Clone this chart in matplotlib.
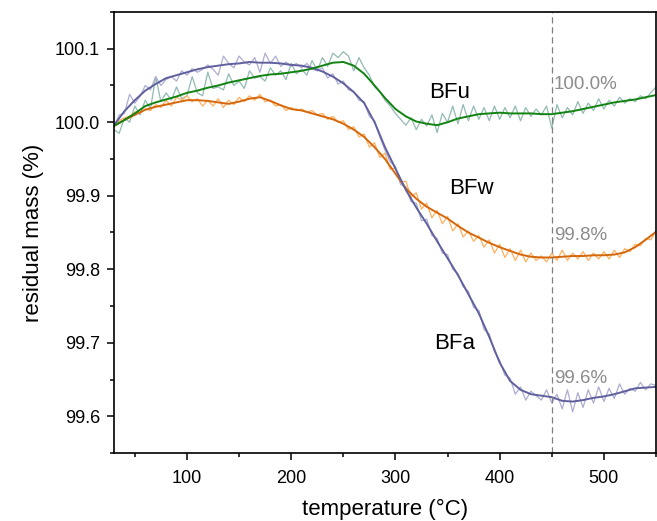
import numpy as np
import matplotlib
matplotlib.use("Agg")
import matplotlib.pyplot as plt
from matplotlib.ticker import MultipleLocator, FormatStrFormatter

plt.rcParams['font.family'] = ['Liberation Sans', 'DejaVu Sans']

# smoothed curves (10 °C nodes)
T_smooth = list(range(30, 551, 10))
bfa_smooth = [99.996, 100.015, 100.030, 100.043, 100.052, 100.060, 100.064, 100.068, 100.072, 100.075,
              100.077, 100.079, 100.080, 100.082, 100.081, 100.081, 100.080, 100.078, 100.077, 100.074,
              100.069, 100.062, 100.053, 100.041, 100.026, 100.000, 99.966, 99.937, 99.908, 99.884,
              99.862, 99.838, 99.815, 99.792, 99.766, 99.740, 99.708, 99.673, 99.648, 99.636,
              99.630, 99.628, 99.626, 99.621, 99.620, 99.622, 99.625, 99.627, 99.630, 99.634,
              99.638, 99.639, 99.640]
bfw_smooth = [99.995, 100.003, 100.010, 100.017, 100.021, 100.024, 100.027, 100.030, 100.030, 100.029,
              100.027, 100.025, 100.028, 100.032, 100.034, 100.029, 100.023, 100.018, 100.016, 100.012,
              100.008, 100.004, 99.998, 99.990, 99.980, 99.966, 99.950, 99.930, 99.910, 99.896,
              99.885, 99.877, 99.869, 99.859, 99.850, 99.843, 99.836, 99.830, 99.825, 99.820,
              99.817, 99.816, 99.816, 99.817, 99.818, 99.818, 99.819, 99.819, 99.820, 99.823,
              99.830, 99.840, 99.851]
bfu_smooth = [99.995, 100.003, 100.012, 100.022, 100.027, 100.031, 100.035, 100.040, 100.043, 100.047,
              100.050, 100.054, 100.057, 100.060, 100.063, 100.065, 100.066, 100.068, 100.070, 100.073,
              100.077, 100.081, 100.082, 100.077, 100.066, 100.050, 100.033, 100.018, 100.008, 100.001,
              99.998, 99.996, 100.000, 100.005, 100.008, 100.011, 100.012, 100.013, 100.012, 100.012,
              100.012, 100.011, 100.011, 100.013, 100.015, 100.018, 100.021, 100.024, 100.027, 100.029,
              100.031, 100.034, 100.037]

# raw curves (5 °C steps)
T_raw = list(range(30, 551, 5))
bfa_raw = [99.993, 100.010, 100.012, 100.038, 100.026, 100.035, 100.050, 100.044, 100.062, 100.050,
           100.058, 100.062, 100.056, 100.070, 100.064, 100.073, 100.068, 100.072, 100.078, 100.072,
           100.064, 100.090, 100.080, 100.074, 100.090, 100.082, 100.078, 100.088, 100.068, 100.094,
           100.080, 100.090, 100.076, 100.082, 100.076, 100.080, 100.074, 100.080, 100.072, 100.070,
           100.074, 100.060, 100.066, 100.052, 100.056, 100.044, 100.042, 100.030, 100.028, 100.008,
           100.002, 99.980, 99.962, 99.946, 99.940, 99.915, 99.912, 99.892, 99.890, 99.866,
           99.868, 99.846, 99.842, 99.822, 99.820, 99.800, 99.794, 99.776, 99.770, 99.748,
           99.744, 99.718, 99.712, 99.688, 99.676, 99.656, 99.652, 99.630, 99.640, 99.622,
           99.634, 99.628, 99.622, 99.636, 99.618, 99.630, 99.610, 99.636, 99.606, 99.632,
           99.612, 99.636, 99.618, 99.640, 99.620, 99.638, 99.624, 99.644, 99.630, 99.638,
           99.634, 99.646, 99.636, 99.644, 99.642]
bfw_raw = [99.994, 100.002, 100.006, 100.008, 100.014, 100.012, 100.018, 100.016, 100.024, 100.020,
           100.030, 100.022, 100.034, 100.030, 100.036, 100.028, 100.032, 100.022, 100.030, 100.022,
           100.032, 100.020, 100.030, 100.024, 100.034, 100.028, 100.036, 100.030, 100.038, 100.028,
           100.030, 100.022, 100.024, 100.016, 100.020, 100.016, 100.018, 100.014, 100.016, 100.010,
           100.012, 100.004, 100.008, 100.000, 100.002, 99.990, 99.994, 99.980, 99.984, 99.966,
           99.972, 99.952, 99.958, 99.936, 99.938, 99.918, 99.920, 99.898, 99.904, 99.882,
           99.890, 99.870, 99.880, 99.862, 99.872, 99.852, 99.862, 99.844, 99.852, 99.838,
           99.846, 99.830, 99.840, 99.822, 99.834, 99.816, 99.828, 99.812, 99.826, 99.810,
           99.822, 99.812, 99.818, 99.810, 99.822, 99.812, 99.826, 99.812, 99.822, 99.814,
           99.824, 99.812, 99.822, 99.814, 99.824, 99.814, 99.826, 99.816, 99.828, 99.824,
           99.834, 99.832, 99.842, 99.840, 99.852]
bfu_raw = [99.990, 99.985, 100.006, 100.000, 100.022, 100.010, 100.030, 100.018, 100.062, 100.028,
           100.040, 100.030, 100.048, 100.032, 100.036, 100.062, 100.040, 100.036, 100.068, 100.046,
           100.048, 100.044, 100.066, 100.050, 100.056, 100.046, 100.070, 100.060, 100.062, 100.056,
           100.074, 100.064, 100.070, 100.058, 100.080, 100.066, 100.072, 100.064, 100.084, 100.070,
           100.088, 100.076, 100.094, 100.088, 100.096, 100.090, 100.070, 100.088, 100.074, 100.064,
           100.048, 100.042, 100.030, 100.022, 100.012, 100.004, 99.996, 100.006, 99.990, 100.004,
           99.995, 100.010, 99.986, 100.012, 100.000, 100.022, 99.998, 100.024, 100.002, 100.022,
           100.004, 100.020, 100.002, 100.022, 100.004, 100.020, 100.006, 100.022, 100.002, 100.020,
           100.008, 100.018, 100.010, 100.022, 99.992, 100.024, 100.006, 100.020, 100.010, 100.028,
           100.012, 100.026, 100.016, 100.032, 100.018, 100.030, 100.022, 100.034, 100.026, 100.032,
           100.028, 100.036, 100.032, 100.040, 100.048]

sample_names = ["BFa", "BFw", "BFu"]
label_pos = [(357, 99.699), (373, 99.910), (352, 100.040)]
pct_labels = ["99.6%", "99.8%", "100.0%"]
pct_y = [99.651, 99.846, 100.052]
marker_T = 450

fig = plt.figure(figsize=(6.57, 5.21), dpi=100)
ax = fig.add_axes([0.1735, 0.1305, 0.825, 0.8465])

ax.plot(T_raw, bfu_raw, color="#93bab4", lw=0.9)
ax.plot(T_raw, bfw_raw, color="#ffb060", lw=0.9)
ax.plot(T_raw, bfa_raw, color="#adadd2", lw=0.9)
ax.plot(T_smooth, bfw_smooth, color="#d5680c", lw=1.4)
ax.plot(T_smooth, bfa_smooth, color="#60609e", lw=1.4)
ax.plot(T_smooth, bfu_smooth, color="#128312", lw=1.4)

ax.axvline(marker_T, color="#808080", lw=0.9, ls=(0, (5, 3)))

for name, (tx, ty) in zip(sample_names, label_pos):
    ax.text(tx, ty, name, fontsize=16, ha="center", va="center", color="black")
for lab, yy in zip(pct_labels, pct_y):
    ax.text(marker_T + 2, yy, lab, fontsize=13.5, ha="left", va="center", color="#8c8c8c")

ax.set_xlim(30, 550)
ax.set_ylim(99.55, 100.15)
ax.xaxis.set_major_locator(MultipleLocator(100))
ax.xaxis.set_minor_locator(MultipleLocator(50))
ax.yaxis.set_major_locator(MultipleLocator(0.1))
ax.yaxis.set_minor_locator(MultipleLocator(0.05))
ax.yaxis.set_major_formatter(FormatStrFormatter('%.1f'))
ax.tick_params(which="major", direction="out", length=5, width=1.1, labelsize=13, pad=5)
ax.tick_params(axis="x", which="major", pad=7)
ax.tick_params(which="minor", direction="out", length=3, width=1.1)
for s in ax.spines.values():
    s.set_linewidth(1.2)

ax.set_xlabel("temperature (°C)", fontsize=16, labelpad=9)
ax.set_ylabel("residual mass (%)", fontsize=16, labelpad=8)

fig.savefig("out.png", dpi=100)
